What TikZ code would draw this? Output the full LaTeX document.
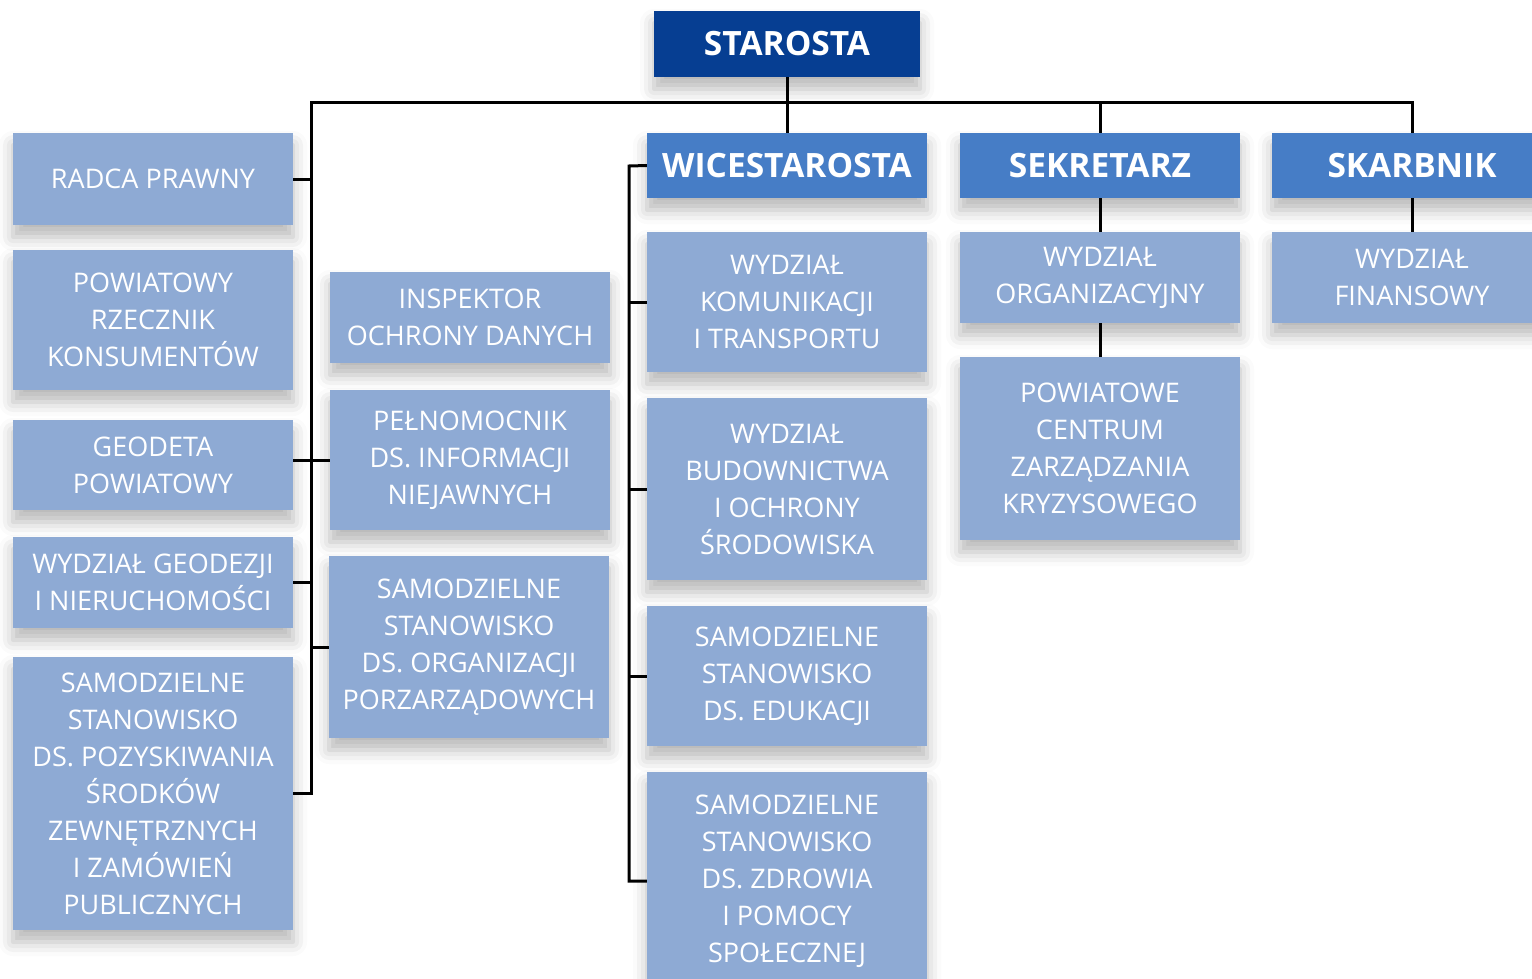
\documentclass[tikz,border=0pt]{standalone}
\usepackage{fontspec}
\setmainfont{Open Sans}
\usepackage{tikz}
\usepackage{xcolor}
\usetikzlibrary{calc,shadows.blur}

\definecolor{darkblue}{RGB}{6,62,146}
\definecolor{midblue}{RGB}{70,125,198}
\definecolor{lightblue}{RGB}{142,170,212}

\begin{document}
\begin{tikzpicture}[x=1pt,y=-1pt]
    \tikzstyle{every node}=[inner sep=0pt,align=center,text=white]
    \tikzstyle{box}=[fill=lightblue,minimum width=280pt,font=\fontsize{27}{37}\selectfont,
        blur shadow={shadow xshift=0pt,shadow yshift=-12pt,shadow blur radius=14pt,shadow opacity=28}]
    \tikzstyle{head}=[box,fill=midblue,minimum height=65pt,font=\fontsize{33.5}{38}\selectfont\bfseries]
    \tikzstyle{conn}=[line width=3pt]

    \useasboundingbox (0,0) rectangle (1532,978);

    \node[head,fill=darkblue,minimum width=266pt,minimum height=66pt] (star) at (787,44) {STAROSTA};
    \node[head] (wice) at (787,165.5) {WICESTAROSTA};
    \node[head] (sekr) at (1100,165.5) {SEKRETARZ};
    \node[head] (skarb) at (1412,165.5) {SKARBNIK};

    % left column
    \node[box,minimum height=92pt] (radca) at (153,179) {RADCA PRAWNY};
    \node[box,minimum height=140pt] (rzecz) at (153,320) {POWIATOWY\\RZECZNIK\\KONSUMENTÓW};
    \node[box,minimum height=90pt] (geod) at (153,465) {GEODETA\\POWIATOWY};
    \node[box,minimum height=91pt] (wgeo) at (153,582.5) {WYDZIAŁ GEODEZJI\\I NIERUCHOMOŚCI};
    \node[box,minimum height=273pt] (pozysk) at (153,793.5) {SAMODZIELNE\\STANOWISKO\\DS. POZYSKIWANIA\\ŚRODKÓW\\ZEWNĘTRZNYCH\\I ZAMÓWIEŃ\\PUBLICZNYCH};

    % second column
    \node[box,minimum height=91pt] (insp) at (470,317.5) {INSPEKTOR\\OCHRONY DANYCH};
    \node[box,minimum height=140pt] (pel) at (470,460) {PEŁNOMOCNIK\\DS. INFORMACJI\\NIEJAWNYCH};
    \node[box,minimum height=182pt] (porz) at (469,647) {SAMODZIELNE\\STANOWISKO\\DS. ORGANIZACJI\\PORZARZĄDOWYCH};

    % under wicestarosta
    \node[box,minimum height=140pt] (kom) at (787,302) {WYDZIAŁ\\KOMUNIKACJI\\I TRANSPORTU};
    \node[box,minimum height=182pt] (bud) at (787,489) {WYDZIAŁ\\BUDOWNICTWA\\I OCHRONY\\ŚRODOWISKA};
    \node[box,minimum height=140pt] (edu) at (787,676) {SAMODZIELNE\\STANOWISKO\\DS. EDUKACJI};
    \node[box,minimum height=218pt] (zdr) at (787,881) {SAMODZIELNE\\STANOWISKO\\DS. ZDROWIA\\I POMOCY\\SPOŁECZNEJ};

    % under sekretarz and skarbnik
    \node[box,minimum height=91pt] (org) at (1100,277.5) {WYDZIAŁ\\ORGANIZACYJNY};
    \node[box,minimum height=183pt] (pczk) at (1100,448.5) {POWIATOWE\\CENTRUM\\ZARZĄDZANIA\\KRYZYSOWEGO};
    \node[box,minimum height=91pt] (fin) at (1412,277.5) {WYDZIAŁ\\FINANSOWY};

    \coordinate (lt) at (311,102);
    \coordinate (wl) at (629,166);

    \draw[conn] (pozysk.east) -| (lt) -| (skarb.north);
    \draw[conn] (star.south) -- (wice.north);
    \draw[conn] (sekr.north) -- (sekr.north |- lt);

    % branches off the left line
    \draw[conn] (radca.east) -- (radca.east -| lt);
    \draw[conn] (geod.east |- pel) -- (pel.west);
    \draw[conn] (wgeo.east) -- (wgeo.east -| lt);
    \draw[conn] (porz.west) -- (porz.west -| lt);

    % wicestarosta line
    \draw[conn] (wice.west) -- (wl) |- (zdr.west);
    \foreach \n in {kom,bud,edu}
        \draw[conn] (\n.west) -- (\n.west -| wl);

    \draw[conn] (sekr.south) -- (org.north);
    \draw[conn] (org.south) -- (pczk.north);
    \draw[conn] (skarb.south) -- (fin.north);

\end{tikzpicture}
\end{document}
